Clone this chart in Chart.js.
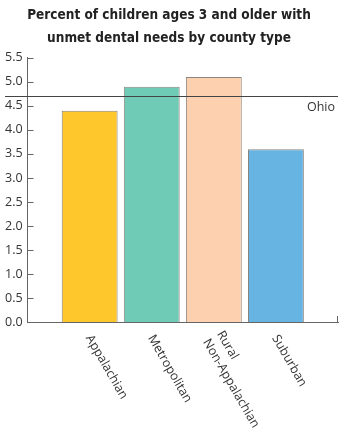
<!DOCTYPE html>
<html>
    <head>
        <title>Unmet dental needs by county type</title>
        <meta charset="UTF-8">
        <script src="https://cdn.jsdelivr.net/npm/chart.js@4/dist/chart.umd.min.js"></script>
        <style>
            body { margin: 0; background: #fff; }
            #wrap { width: 350px; height: 440px; }
        </style>
        <script>
            // data
            var categories = ['Appalachian', 'Metropolitan', ['Rural', 'Non-Appalachian'], 'Suburban'];
            var values = [4.4, 4.9, 5.1, 3.6];
            var ohioValue = 4.7;
            var ohioLabel = 'Ohio';
            var barColors = ['#fec72c', '#6fcab6', '#fdd1af', '#67b3e1'];
            var titleLines = ['Percent of children ages 3 and older with', 'unmet dental needs by county type'];

            var labelFont = '12.5px "Open Sans"';

            // short tick marks inside the y axis, end tick on x axis, Ohio line, slanted labels
            var extras = {
                id: 'extras',
                afterDatasetsDraw: function (chart) {
                    var c = chart.ctx;
                    var area = chart.chartArea;
                    var y = chart.scales.y;
                    var x = chart.scales.x;
                    c.save();
                    c.strokeStyle = '#666';
                    c.lineWidth = 1;
                    y.ticks.forEach(function (t) {
                        var py = Math.round(y.getPixelForValue(t.value)) + 0.5;
                        c.beginPath();
                        c.moveTo(area.left, py);
                        c.lineTo(area.left + 6, py);
                        c.stroke();
                    });
                    c.beginPath();
                    c.moveTo(area.right - 0.5, area.bottom);
                    c.lineTo(area.right - 0.5, area.bottom - 6);
                    c.stroke();

                    // Ohio reference line
                    var oy = Math.round(y.getPixelForValue(ohioValue)) + 0.5;
                    c.strokeStyle = '#444';
                    c.beginPath();
                    c.moveTo(5, oy);
                    c.lineTo(area.right, oy);
                    c.stroke();
                    c.fillStyle = '#333';
                    c.font = labelFont;
                    c.textAlign = 'right';
                    c.textBaseline = 'middle';
                    c.fillText(ohioLabel, area.right - 3, oy + 11);

                    // category labels, slanted down to the right
                    c.textAlign = 'left';
                    categories.forEach(function (lab, i) {
                        var lines = Array.isArray(lab) ? lab : [lab];
                        var px = x.getPixelForValue(i);
                        c.save();
                        c.translate(px - 1, area.bottom + 14);
                        c.rotate(Math.PI / 3);
                        lines.forEach(function (ln, j) {
                            c.fillText(ln, 0, (j - (lines.length - 1) / 2) * 16);
                        });
                        c.restore();
                    });
                    c.restore();
                }
            };

            document.addEventListener('DOMContentLoaded', function () {
                var ctx = document.getElementById('myChart').getContext('2d');
                new Chart(ctx, {
                    type: 'bar',
                    data: {
                        datasets: [{
                            data: values.map(function (v, i) { return { x: i, y: v }; }),
                            backgroundColor: barColors,
                            borderColor: 'rgba(90, 80, 70, 0.7)',
                            borderWidth: 1,
                            barPercentage: 0.9,
                            categoryPercentage: 1
                        }]
                    },
                    options: {
                        responsive: true,
                        maintainAspectRatio: false,
                        animation: false,
                        layout: { padding: { left: 0, right: 12, bottom: 110, top: 0 } },
                        plugins: {
                            legend: { display: false },
                            tooltip: { enabled: false },
                            title: {
                                display: true,
                                text: titleLines,
                                color: '#222',
                                font: { family: '"DejaVu Sans Condensed", sans-serif', size: 13.5, weight: 'bold', lineHeight: 1.7 },
                                padding: { top: 4, bottom: 8 }
                            }
                        },
                        scales: {
                            x: {
                                type: 'linear',
                                offset: false,
                                min: -1,
                                max: 4,
                                grid: { display: false },
                                border: { display: true, color: '#666', width: 1 },
                                ticks: { display: false }
                            },
                            y: {
                                min: 0,
                                max: 5.5,
                                grid: { display: false, drawTicks: false },
                                border: { display: true, color: '#666', width: 1 },
                                ticks: {
                                    stepSize: 0.5,
                                    padding: 5,
                                    color: '#333',
                                    font: { family: '"Open Sans"', size: 12.5 },
                                    callback: function (v) { return Number(v).toFixed(1); }
                                }
                            }
                        }
                    },
                    plugins: [extras]
                });
            });
        </script>
    </head>
    <body>
        <div id="wrap">
            <canvas id="myChart"></canvas>
        </div>
    </body>
</html>
